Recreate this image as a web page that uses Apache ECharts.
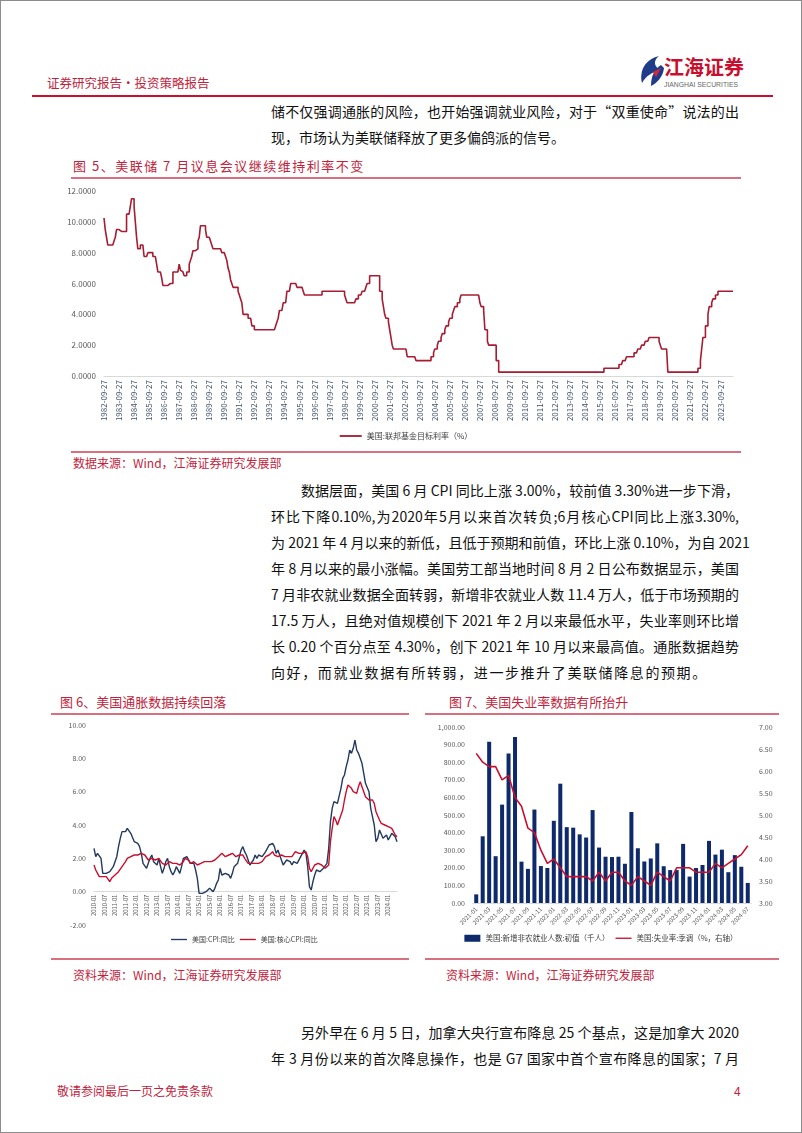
<!DOCTYPE html>
<html>
<head>
<meta charset="utf-8">
<script src="https://cdn.jsdelivr.net/npm/echarts@6/dist/echarts.min.js"></script>
<style>
body{margin:0;background:#fff;font-family:"Noto Sans CJK SC",sans-serif;}
#page{position:relative;width:800px;height:1131px;border:1px solid #8c8c8c;overflow:hidden;background:#fff;}
.t{position:absolute;white-space:nowrap;line-height:1;}
.red{color:#c0243c;}
.body{font-size:14px;color:#111;text-align:justify;text-align-last:justify;}
.rule{position:absolute;height:2px;background:#d9707f;}
.chart{position:absolute;}
</style>
</head>
<body>
<div id="page">
  <!-- header -->
  <div class="t red" style="left:46px;top:76px;font-size:12.5px;">证券研究报告·投资策略报告</div>
  <svg style="position:absolute;left:636px;top:52px" width="130" height="40">
    <path d="M22 3 C9 6 2 17 5 30 C9 23 15 19 23 17 C17 13 16 8 22 3Z" fill="#1f3c88"/>
    <path d="M24 12 C18 16 14 22 14 33 C20 30 26 24 27 15Z" fill="#1f3c88"/>
    <path d="M16 19 L24 15 L19 24 Z" fill="#d7263d"/>
    <text x="27" y="22" font-size="20" font-weight="bold" fill="#c8102e" font-family="Noto Sans CJK SC">江海证券</text>
    <text x="27" y="34" font-size="6.8" fill="#666" font-family="Liberation Sans">JIANGHAI SECURITIES</text>
  </svg>
  <div style="position:absolute;left:31px;top:94px;width:741px;height:2px;background:#c8102e"></div>

  <div class="t body" style="left:270px;top:103px;width:468px">储不仅强调通胀的风险，也开始强调就业风险，对于“双重使命”说法的出</div>
  <div class="t" style="left:270px;top:129px;font-size:14px;color:#111">现，市场认为美联储释放了更多偏鸽派的信号。</div>

  <!-- figure 5 -->
  <div class="t red" style="left:72px;top:158px;font-size:13px;letter-spacing:1.5px">图 5、美联储 7 月议息会议继续维持利率不变</div>
  <div class="rule" style="left:70px;top:176px;width:670px"></div>
  <div id="c1" class="chart" style="left:40px;top:180px;width:730px;height:268px"></div>
  <div class="rule" style="left:70px;top:450px;width:670px"></div>
  <div class="t red" style="left:72px;top:456px;font-size:12px">数据来源：Wind，江海证券研究发展部</div>

  <!-- paragraph -->
  <div class="t body" style="left:300px;top:482px;width:438px">数据层面，美国 6 月 CPI 同比上涨 3.00%，较前值 3.30%进一步下滑，</div>
  <div class="t body" style="left:270px;top:508px;width:468px">环比下降0.10%,为2020年5月以来首次转负;6月核心CPI同比上涨3.30%,</div>
  <div class="t body" style="left:270px;top:534px;width:468px">为 2021 年 4 月以来的新低，且低于预期和前值，环比上涨 0.10%，为自 2021</div>
  <div class="t body" style="left:270px;top:560px;width:468px">年 8 月以来的最小涨幅。美国劳工部当地时间 8 月 2 日公布数据显示，美国</div>
  <div class="t body" style="left:270px;top:586px;width:468px">7 月非农就业数据全面转弱，新增非农就业人数 11.4 万人，低于市场预期的</div>
  <div class="t body" style="left:270px;top:612px;width:468px">17.5 万人，且绝对值规模创下 2021 年 2 月以来最低水平，失业率则环比增</div>
  <div class="t body" style="left:270px;top:638px;width:468px">长 0.20 个百分点至 4.30%，创下 2021 年 10 月以来最高值。通胀数据趋势</div>
  <div class="t" style="left:270px;top:664px;font-size:14px;color:#111;letter-spacing:1.6px">向好，而就业数据有所转弱，进一步推升了美联储降息的预期。</div>

  <!-- figures 6 and 7 -->
  <div class="t red" style="left:59px;top:694px;font-size:13px">图 6、美国通胀数据持续回落</div>
  <div class="t red" style="left:448px;top:694px;font-size:13px">图 7、美国失业率数据有所抬升</div>
  <div class="rule" style="left:50px;top:712px;width:358px"></div>
  <div class="rule" style="left:424px;top:712px;width:354px"></div>
  <div id="c2" class="chart" style="left:40px;top:715px;width:362px;height:238px"></div>
  <div id="c3" class="chart" style="left:420px;top:715px;width:360px;height:238px"></div>
  <div class="rule" style="left:50px;top:957px;width:358px"></div>
  <div class="rule" style="left:424px;top:957px;width:354px"></div>
  <div class="t red" style="left:72px;top:968px;font-size:12px">资料来源：Wind，江海证券研究发展部</div>
  <div class="t red" style="left:445px;top:968px;font-size:12px">资料来源：Wind，江海证券研究发展部</div>

  <div class="t body" style="left:300px;top:1024px;width:438px">另外早在 6 月 5 日，加拿大央行宣布降息 25 个基点，这是加拿大 2020</div>
  <div class="t body" style="left:270px;top:1050px;width:468px">年 3 月份以来的首次降息操作，也是 G7 国家中首个宣布降息的国家；7 月</div>

  <div class="t red" style="left:56px;top:1084px;font-size:12px">敬请参阅最后一页之免责条款</div>
  <div class="t red" style="left:733px;top:1084px;font-size:12px">4</div>
</div>

<script>
// 图5 联邦基金目标利率：变动月份与变动后的水平
const fedMonths = ['1982-09','1982-10','1982-11','1982-12','1983-05','1983-06','1983-07','1983-09',
  '1984-03','1984-06','1984-07','1984-09','1984-10','1984-11','1984-12',
  '1985-02','1985-05','1985-08','1985-12','1986-03','1986-04','1986-07','1986-08',
  '1987-01','1987-04','1987-09','1987-10','1987-11','1988-01','1988-03','1988-05','1988-06','1988-07','1988-08','1988-11','1988-12',
  '1989-01','1989-02','1989-06','1989-07','1989-10','1989-11','1989-12',
  '1990-07','1990-10','1990-11','1990-12','1991-01','1991-02','1991-03','1991-04','1991-08','1991-09','1991-10','1991-11','1991-12',
  '1992-04','1992-07','1992-09','1994-02','1994-03','1994-04','1994-05','1994-08','1994-11',
  '1995-02','1995-07','1995-12','1996-01','1997-03','1998-09','1998-10','1998-11','1999-06','1999-08','1999-11',
  '2000-02','2000-03','2000-05','2001-01','2001-03','2001-04','2001-05','2001-06','2001-08','2001-09','2001-10','2001-11','2001-12',
  '2002-11','2003-06','2004-06','2004-08','2004-09','2004-11','2004-12',
  '2005-02','2005-03','2005-05','2005-06','2005-08','2005-09','2005-11','2005-12','2006-01','2006-03','2006-05','2006-06',
  '2007-09','2007-10','2007-12','2008-01','2008-03','2008-04','2008-10','2008-12',
  '2015-12','2016-12','2017-03','2017-06','2017-12','2018-03','2018-06','2018-09','2018-12',
  '2019-08','2019-09','2019-10','2020-03','2022-03','2022-05','2022-06','2022-07','2022-09','2022-11','2022-12',
  '2023-02','2023-03','2023-05','2023-07'];
const fedLevels = [10.25,9.5,9.0,8.5,8.75,9.0,9.5,9.375,
  10.5,11.0,11.5,11.0,10.0,9.0,8.25,
  8.5,7.75,8.0,7.75,7.25,6.75,6.375,5.875,
  6.0,6.75,7.25,6.875,6.75,6.5,6.75,7.25,7.5,7.75,8.125,8.25,8.75,
  9.0,9.75,9.5,9.0,8.75,8.5,8.25,
  8.0,7.75,7.5,7.0,6.75,6.25,6.0,5.75,5.5,5.25,5.0,4.75,4.0,
  3.75,3.25,3.0,3.25,3.5,3.75,4.25,4.75,5.5,
  6.0,5.75,5.5,5.25,5.5,5.25,5.0,4.75,5.0,5.25,5.5,
  5.75,6.0,6.5,5.5,5.0,4.5,4.0,3.75,3.5,3.0,2.5,2.0,1.75,
  1.25,1.0,1.25,1.5,1.75,2.0,2.25,
  2.5,2.75,3.0,3.25,3.5,3.75,4.0,4.25,4.5,4.75,5.0,5.25,
  4.75,4.5,4.25,3.0,2.25,2.0,1.0,0.25,
  0.5,0.75,1.0,1.25,1.5,1.75,2.0,2.25,2.5,
  2.25,2.0,1.75,0.25,0.5,1.0,1.75,2.5,3.25,4.0,4.5,
  4.75,5.0,5.25,5.5];
const fedStart = '1982-09', fedEnd = '2024-07';

// 图6 CPI同比、核心CPI同比，2010-01 起
const cpiStart = 2010;
const cpiYoY = [2.6,2.1,2.3,2.2,2.0,1.1,1.2,1.1,1.1,1.2,1.1,1.5,
  1.6,2.1,2.7,3.2,3.6,3.6,3.6,3.8,3.9,3.5,3.4,3.0,
  2.9,2.9,2.7,2.3,1.7,1.7,1.4,1.7,2.0,2.2,1.8,1.7,
  1.6,2.0,1.5,1.1,1.4,1.8,2.0,1.5,1.2,1.0,1.2,1.5,
  1.6,1.1,1.5,2.0,2.1,2.1,2.0,1.7,1.7,1.7,1.3,0.8,
  -0.1,0.0,-0.1,-0.2,0.0,0.1,0.2,0.2,0.0,0.2,0.5,0.7,
  1.4,1.0,0.9,1.1,1.0,1.0,0.8,1.1,1.5,1.6,1.7,2.1,
  2.5,2.7,2.4,2.2,1.9,1.6,1.7,1.9,2.2,2.0,2.2,2.1,
  2.1,2.2,2.4,2.5,2.8,2.9,2.9,2.7,2.3,2.5,2.2,1.9,
  1.6,1.5,1.9,2.0,1.8,1.6,1.8,1.7,1.7,1.8,2.1,2.3,
  2.5,2.3,1.5,0.3,0.1,0.6,1.0,1.3,1.4,1.2,1.2,1.4,
  1.4,1.7,2.6,4.2,5.0,5.4,5.4,5.3,5.4,6.2,6.8,7.0,
  7.5,7.9,8.5,8.3,8.6,9.1,8.5,8.3,8.2,7.7,7.1,6.5,
  6.4,6.0,5.0,4.9,4.0,3.0,3.2,3.7,3.7,3.2,3.1,3.4,
  3.1,3.2,3.5,3.4,3.3,3.0];
const coreYoY = [1.6,1.3,1.1,0.9,0.9,0.9,0.9,0.9,0.8,0.6,0.8,0.8,
  1.0,1.1,1.2,1.3,1.5,1.6,1.8,2.0,2.0,2.1,2.2,2.2,
  2.3,2.2,2.3,2.3,2.3,2.2,2.1,1.9,2.0,2.0,1.9,1.9,
  1.9,2.0,1.9,1.7,1.7,1.6,1.7,1.8,1.7,1.7,1.7,1.7,
  1.6,1.6,1.7,1.8,2.0,1.9,1.9,1.7,1.7,1.8,1.7,1.6,
  1.6,1.7,1.8,1.8,1.7,1.8,1.8,1.8,1.9,1.9,2.0,2.1,
  2.2,2.3,2.2,2.1,2.2,2.2,2.2,2.3,2.2,2.1,2.1,2.2,
  2.3,2.2,2.0,1.9,1.7,1.7,1.7,1.7,1.7,1.8,1.7,1.8,
  1.8,1.8,2.1,2.1,2.2,2.3,2.4,2.2,2.2,2.1,2.2,2.2,
  2.2,2.1,2.0,2.1,2.0,2.1,2.2,2.4,2.4,2.3,2.3,2.3,
  2.3,2.4,2.1,1.4,1.2,1.2,1.6,1.7,1.7,1.6,1.6,1.6,
  1.4,1.3,1.6,3.0,3.8,4.5,4.3,4.0,4.0,4.6,4.9,5.5,
  6.0,6.4,6.5,6.2,6.0,5.9,5.9,6.3,6.6,6.3,6.0,5.7,
  5.6,5.5,5.6,5.5,5.3,4.8,4.7,4.3,4.1,4.0,4.0,3.9,
  3.9,3.8,3.8,3.6,3.4,3.3];

// 图7 新增非农（千人）与失业率，2021-01 起
const jobsStart = 2021;
const payrolls = [49,379,916,266,559,850,943,235,194,531,210,199,
  467,678,431,428,390,372,528,315,263,261,263,223,
  517,311,236,253,339,209,187,187,336,150,199,216,
  353,275,303,175,272,206,114];
const unemployment = [6.4,6.2,6.1,6.1,5.8,5.9,5.4,5.2,4.7,4.6,4.2,3.9,
  4.0,3.8,3.6,3.6,3.6,3.6,3.5,3.7,3.5,3.7,3.7,3.5,
  3.4,3.6,3.5,3.4,3.7,3.6,3.5,3.8,3.8,3.8,3.7,3.7,
  3.7,3.9,3.8,3.9,4.0,4.1,4.3];

const pad = n => (n < 10 ? '0' : '') + n;
const monthList = (y0, m0, count) => {
  const out = [];
  for (let i = 0; i < count; i++) {
    const k = (m0 - 1) + i;
    out.push((y0 + Math.floor(k / 12)) + '-' + pad(k % 12 + 1));
  }
  return out;
};

// 月度序列：每月取最近一次调整后的水平
const fedCats = [];
const fedData = [];
{
  const [ys, ms] = fedStart.split('-').map(Number);
  const [ye, me] = fedEnd.split('-').map(Number);
  const months = monthList(ys, ms, (ye - ys) * 12 + (me - ms) + 1);
  let j = 0, cur = fedLevels[0];
  months.forEach(m => {
    while (j < fedMonths.length && fedMonths[j] <= m) { cur = fedLevels[j]; j++; }
    fedCats.push(m + '-27');
    fedData.push(cur);
  });
}
const cpiCats = monthList(cpiStart, 1, cpiYoY.length);
const jobCats = monthList(jobsStart, 1, payrolls.length);

const axisGrey = '#595959';
const font = 'Noto Sans CJK SC';
const lineIcon = 'path://M0,0L24,0L24,2L0,2Z';

const c1 = echarts.init(document.getElementById('c1'));
c1.setOption({
  animation: false,
  textStyle: {fontFamily: font},
  grid: {left: 63, right: 38, top: 10, bottom: 73},
  legend: {
    bottom: 4, left: 'center', itemWidth: 22, itemHeight: 8,
    textStyle: {fontSize: 8, color: '#404040'},
    data: [{name: '美国:联邦基金目标利率（%）', icon: lineIcon}]
  },
  xAxis: {
    type: 'category', data: fedCats, boundaryGap: false,
    axisLine: {lineStyle: {color: '#d9d9d9'}},
    axisTick: {show: false},
    axisLabel: {
      rotate: 90, fontSize: 8, color: '#44546a', margin: 4,
      interval: (i, v) => v.slice(5, 7) === '09'
    }
  },
  yAxis: {
    type: 'value', min: 0, max: 12, interval: 2,
    splitLine: {show: false},
    axisLabel: {fontSize: 8, color: axisGrey, formatter: v => v.toFixed(4)}
  },
  series: [{
    name: '美国:联邦基金目标利率（%）', type: 'line', step: 'end',
    data: fedData, symbol: 'none',
    lineStyle: {color: '#a61c32', width: 1.6},
    itemStyle: {color: '#a61c32'}
  }]
});

// 图6：x 轴放在 0 值处（纵轴 -2~10，绘图区 200px 高）
const c2Plot = 200;
const c2 = echarts.init(document.getElementById('c2'));
c2.setOption({
  animation: false,
  textStyle: {fontFamily: font},
  grid: {left: 53, right: 6, top: 9, height: c2Plot},
  legend: {
    bottom: 6, left: 125, itemWidth: 16, itemHeight: 7, itemGap: 5,
    textStyle: {fontSize: 7, color: '#404040'},
    data: [{name: '美国:CPI:同比', icon: lineIcon}, {name: '美国:核心CPI:同比', icon: lineIcon}]
  },
  xAxis: {
    type: 'category', data: cpiCats, boundaryGap: false,
    offset: -c2Plot * 2 / 12,
    axisLine: {onZero: false, lineStyle: {color: '#d9d9d9'}},
    axisTick: {show: false},
    axisLabel: {rotate: 90, fontSize: 5.8, color: axisGrey, interval: 5, margin: 3}
  },
  yAxis: {
    type: 'value', min: -2, max: 10, interval: 2,
    splitLine: {show: false},
    axisLabel: {fontSize: 7, color: axisGrey, formatter: v => v.toFixed(2)}
  },
  series: [
    {name: '美国:CPI:同比', type: 'line', data: cpiYoY, symbol: 'none',
      lineStyle: {color: '#23395d', width: 1.4}, itemStyle: {color: '#23395d'}},
    {name: '美国:核心CPI:同比', type: 'line', data: coreYoY, symbol: 'none',
      lineStyle: {color: '#c8102e', width: 1.4}, itemStyle: {color: '#c8102e'}}
  ]
});

const c3 = echarts.init(document.getElementById('c3'));
c3.setOption({
  animation: false,
  textStyle: {fontFamily: font},
  grid: {left: 52, right: 30, top: 11, bottom: 51},
  legend: {
    bottom: 7, left: 'center', itemGap: 6, itemWidth: 16, itemHeight: 7,
    textStyle: {fontSize: 7.5, color: '#404040'},
    data: [
      {name: '美国:新增非农就业人数:初值（千人）', icon: 'rect'},
      {name: '美国:失业率:季调（%，右轴）', icon: lineIcon}
    ]
  },
  xAxis: {
    type: 'category', data: jobCats,
    axisLine: {lineStyle: {color: '#d9d9d9'}},
    axisTick: {show: false},
    axisLabel: {rotate: 45, fontSize: 6, color: axisGrey, interval: 1, margin: 5}
  },
  yAxis: [
    {type: 'value', min: 0, max: 1000, interval: 100, splitLine: {show: false},
      axisLabel: {fontSize: 7, color: axisGrey,
        formatter: v => v.toLocaleString('en-US', {minimumFractionDigits: 2, maximumFractionDigits: 2})}},
    {type: 'value', min: 3, max: 7, interval: 0.5, splitLine: {show: false},
      axisLabel: {fontSize: 7, color: axisGrey, formatter: v => v.toFixed(2)}}
  ],
  series: [
    {name: '美国:新增非农就业人数:初值（千人）', type: 'bar', data: payrolls,
      barWidth: '62%', itemStyle: {color: '#0e2a6b'}},
    {name: '美国:失业率:季调（%，右轴）', type: 'line', yAxisIndex: 1, data: unemployment,
      symbol: 'none', lineStyle: {color: '#c8102e', width: 1.6}, itemStyle: {color: '#c8102e'}}
  ]
});
</script>
</body>
</html>
